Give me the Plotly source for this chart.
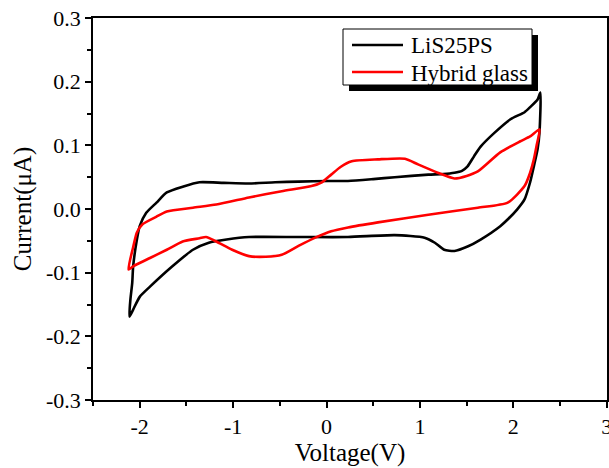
import plotly.graph_objects as go

# LiS25PS (black) loop
lis_x = [-2.11, -2.10, -2.08, -2.07, -2.03, -2.0, -1.93, -1.82, -1.71, -1.54, -1.36, -1.1, -0.83, -0.55, -0.30,
         0.02, 0.23, 0.5, 0.73, 1.09, 1.25, 1.37, 1.45, 1.51, 1.58, 1.65, 1.80, 1.97, 2.12, 2.18, 2.26, 2.29,
         2.28, 2.26, 2.22, 2.18, 2.12, 2.04, 1.95, 1.86, 1.65, 1.51, 1.37, 1.26, 1.16, 1.05, 0.73, 0.23,
         -0.30, -0.83, -1.07, -1.26, -1.43, -1.65, -1.89, -2.0, -2.07, -2.11]
lis_y = [-0.169, -0.143, -0.116, -0.09, -0.048, -0.027, -0.006, 0.01, 0.026, 0.035, 0.042, 0.041, 0.040, 0.042, 0.043,
         0.044, 0.044, 0.047, 0.050, 0.054, 0.055, 0.057, 0.060, 0.067, 0.083, 0.098, 0.12, 0.141, 0.152, 0.160, 0.172, 0.183,
         0.12, 0.094, 0.067, 0.042, 0.015, -0.001, -0.015, -0.027, -0.048, -0.059, -0.066, -0.064, -0.053, -0.045, -0.041, -0.044,
         -0.044, -0.044, -0.048, -0.053, -0.064, -0.09, -0.122, -0.138, -0.158, -0.169]

# Hybrid glass (red) loop
hyb_x = [-2.12, -2.07, -2.03, -1.97, -1.82, -1.71, -1.43, -1.18, -0.83, -0.48, -0.16, -0.05, 0.05, 0.15, 0.27, 0.55, 0.84,
         0.98, 1.19, 1.37, 1.5, 1.62, 1.86, 2.07, 2.18, 2.28,
         2.25, 2.22, 2.18, 2.12, 1.94, 1.62, 1.09, 0.55, 0.23, 0.05, -0.12, -0.3, -0.48, -0.65, -0.83, -1.01,
         -1.18, -1.29, -1.36, -1.54, -1.71, -1.89, -2.07, -2.12]
hyb_y = [-0.095, -0.06, -0.037, -0.024, -0.012, -0.004, 0.002, 0.007, 0.018, 0.028, 0.036, 0.042, 0.054, 0.066, 0.075, 0.078, 0.079,
         0.070, 0.057, 0.048, 0.052, 0.059, 0.089, 0.106, 0.114, 0.125,
         0.10, 0.078, 0.057, 0.036, 0.010, 0.002, -0.009, -0.021, -0.029, -0.035, -0.045, -0.058, -0.072, -0.075, -0.074, -0.064,
         -0.051, -0.044, -0.046, -0.051, -0.064, -0.077, -0.09, -0.095]

series_names = ["LiS25PS", "Hybrid glass"]
series_colors = ["black", "#ff0000"]

x_ticks = [-2, -1, 0, 1, 2, 3]
y_ticks = [-0.3, -0.2, -0.1, 0.0, 0.1, 0.2, 0.3]

FONT = "Liberation Serif, Times New Roman, serif"

fig = go.Figure()
for nm, xs, ys, col in zip(series_names, [lis_x, hyb_x], [lis_y, hyb_y], series_colors):
    fig.add_trace(go.Scatter(x=xs, y=ys, mode="lines", name=nm, showlegend=False,
                             line=dict(color=col, width=2.6, shape="spline", smoothing=0.6)))

axis_common = dict(showline=True, linecolor="black", linewidth=1.5, mirror=True,
                   ticks="outside", ticklen=6, tickwidth=1.5, tickcolor="black",
                   showgrid=False, zeroline=False, automargin=False,
                   ticklabeloverflow="allow",
                   tickfont=dict(family=FONT, size=22, color="black"))

fig.update_xaxes(range=[-2.5, 3.003], tickvals=x_ticks, ticktext=[str(v) for v in x_ticks],
                 minor=dict(dtick=0.5, ticks="outside", ticklen=4, tickwidth=1.5, tickcolor="black"),
                 title=dict(text="Voltage(V)", font=dict(family=FONT, size=25, color="black"), standoff=2),
                 **axis_common)
fig.update_yaxes(range=[-0.3, 0.3], tickvals=y_ticks, ticktext=[f"{v:.1f}" for v in y_ticks],
                 minor=dict(dtick=0.05, ticks="outside", ticklen=4, tickwidth=1.5, tickcolor="black"),
                 title=dict(text="Current(μA)", font=dict(family=FONT, size=25, color="black"), standoff=7),
                 **axis_common)

# ---- legend box drawn in paper coordinates (with drop shadow) ----
L, T, W, H = 93, 18, 514, 382
px = lambda v: (v - L) / W
py = lambda v: 1 - (v - T) / H

fig.add_shape(type="rect", xref="paper", yref="paper",
              x0=px(349), x1=px(538), y0=py(91), y1=py(35),
              fillcolor="black", line=dict(width=0), layer="above")
fig.add_shape(type="rect", xref="paper", yref="paper",
              x0=px(343), x1=px(532), y0=py(85), y1=py(29),
              fillcolor="white", line=dict(color="black", width=1), layer="above")
for i, (nm, col) in enumerate(zip(series_names, series_colors)):
    yy = 45 + i * 27
    fig.add_shape(type="line", xref="paper", yref="paper",
                  x0=px(352), x1=px(403), y0=py(yy), y1=py(yy),
                  line=dict(color=col, width=2.6), layer="above")
    fig.add_annotation(xref="paper", yref="paper", x=px(409), y=py(yy + 1),
                       xanchor="left", yanchor="middle", showarrow=False, text=nm,
                       font=dict(family=FONT, size=23, color="black"))

fig.update_layout(
    width=609, height=468,
    margin=dict(l=L, r=609 - L - W, t=T, b=468 - T - H),
    paper_bgcolor="white", plot_bgcolor="white",
    showlegend=False,
)

fig.write_html("out.html")
